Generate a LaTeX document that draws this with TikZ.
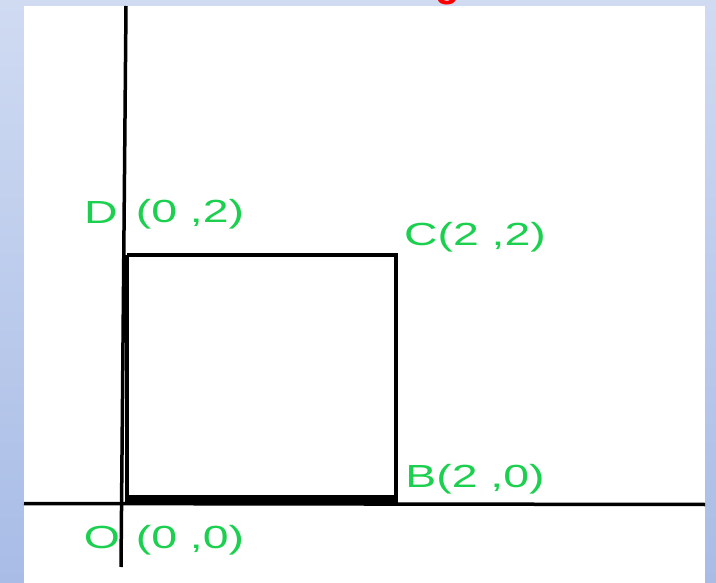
\documentclass[tikz,border=0pt]{standalone}
\usepackage{fontspec}
\setmainfont{Liberation Sans}
\definecolor{labgreen}{RGB}{27,208,78}
\definecolor{bgtop}{RGB}{208,219,242}
\definecolor{bgbot}{RGB}{168,188,230}
\definecolor{titlered}{RGB}{250,0,0}
\begin{document}
\begin{tikzpicture}[x=1pt,y=-1pt,
  lab/.style={text=labgreen, font=\fontsize{32}{32}\selectfont, xscale=1.45, inner sep=0pt},
  axis/.style={line width=3.5pt, black},
  sq/.style={line width=4.5pt, black}]
\useasboundingbox (0,0) rectangle (716,583);
\shade[top color=bgtop, bottom color=bgbot] (0,0) rectangle (716,583);
\node[text=titlered, font=\bfseries\fontsize{40}{40}\selectfont, anchor=base, inner sep=0pt] (g) at (448,-3.5) {g};
\fill[white] (24,6) rectangle (705,583);
% axes
\coordinate (ytop) at (126,6);
\coordinate (ybot) at (121,567);
\coordinate (xl) at (24,503.5);
\coordinate (xr) at (705,504.5);
\draw[axis] (ytop) -- (ybot);
\draw[axis] (xl) -- (xr);
% square corners
\coordinate (O) at (127,499);
\coordinate (B) at (396,499);
\coordinate (C) at (396,255);
\coordinate (D) at (127,255);
\draw[sq] (D) -- (C) -- ([yshift=-2pt]B);
\draw[sq] (D) -- (O);
\draw[line width=8pt] ([xshift=-2pt]O) -- ([xshift=2pt]B);
% labels
\node[lab] (lD) at (101,212) {D};
\node[lab] (lDc) at (190,214) {(0 ,2)};
\node[lab] (lC) at (475,237) {C(2 ,2)};
\node[lab] (lB) at (475,479) {B(2 ,0)};
\node[lab] (lO) at (102,537) {O};
\node[lab] (lOc) at (190,540) {(0 ,0)};
\end{tikzpicture}
\end{document}
